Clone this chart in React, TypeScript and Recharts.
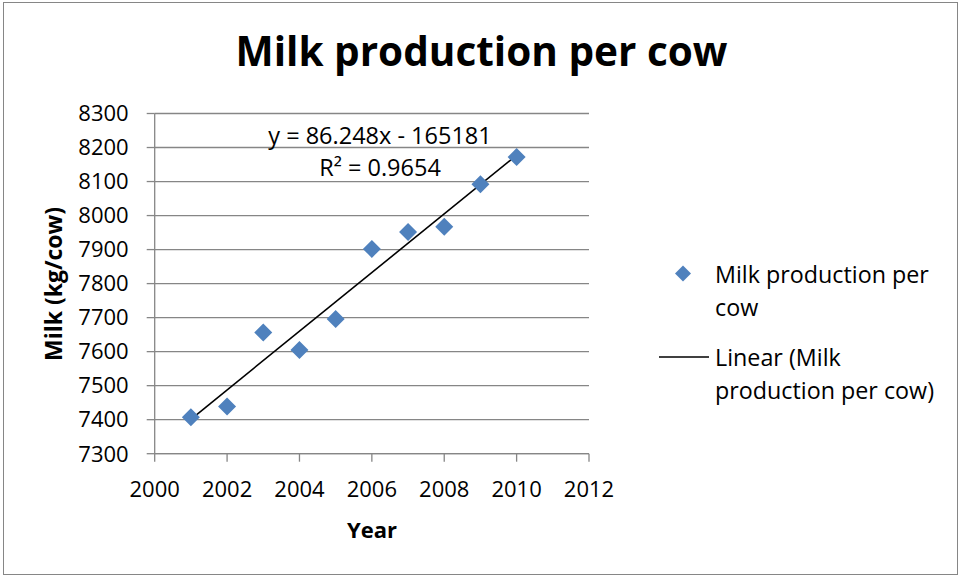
import { Legend, Scatter, ScatterChart, XAxis, YAxis, CartesianGrid } from 'recharts'

const years = [2001, 2002, 2003, 2004, 2005, 2006, 2007, 2008, 2009, 2010]
const milkPerCow = [7407, 7439, 7656, 7605, 7696, 7902, 7952, 7967, 8092, 8172]
const xTicks = [2000, 2002, 2004, 2006, 2008, 2010, 2012]
const yTicks = [7300, 7400, 7500, 7600, 7700, 7800, 7900, 8000, 8100, 8200, 8300]

// linear fit shown on the chart
const slope = 86.248
const intercept = -165181
const rSquared = 0.9654

const points = years.map((year, i) => ({ year, milk: milkPerCow[i] }))
const trend = [years[0], years[years.length - 1]].map((year) => ({
  year,
  milk: slope * year + intercept,
}))

const FONT = '"Open Sans", sans-serif'
const GRID = '#868686'
const BLUE = '#4F81BD'

const Diamond = (props: any) => {
  const { cx, cy } = props
  const r = 9
  return (
    <path
      d={`M${cx},${cy - r} L${cx + r},${cy} L${cx},${cy + r} L${cx - r},${cy} Z`}
      fill={BLUE}
    />
  )
}

const LegendBox = () => (
  <div style={{ fontFamily: FONT, fontSize: 23.3, color: '#000', lineHeight: '33px' }}>
    <div style={{ display: 'flex', alignItems: 'flex-start' }}>
      <svg width={58} height={33}>
        <path d="M26,7.5 L34,15.5 L26,23.5 L18,15.5 Z" fill={BLUE} />
      </svg>
      <div>
        Milk production per
        <br />
        cow
      </div>
    </div>
    <div style={{ display: 'flex', alignItems: 'flex-start', marginTop: 17 }}>
      <svg width={58} height={33}>
        <line x1={2} x2={52} y1={16} y2={16} stroke="#000" strokeWidth={1.5} />
      </svg>
      <div>
        Linear (Milk
        <br />
        production per cow)
      </div>
    </div>
  </div>
)

const App = () => {
  return (
    <div
      style={{
        position: 'absolute',
        left: 0,
        top: 0,
        width: 963,
        height: 578,
        background: '#fff',
        fontFamily: FONT,
      }}
    >
      <div
        style={{
          position: 'absolute',
          left: 3,
          top: 2,
          width: 955,
          height: 573,
          border: '1.5px solid #868686',
          boxSizing: 'border-box',
        }}
      />
      <ScatterChart
        width={963}
        height={578}
        margin={{ top: 113.5, right: 374, bottom: 64.3, left: 74.7 }}
      >
        <CartesianGrid vertical={false} stroke={GRID} strokeWidth={1.3} />
        <XAxis
          type="number"
          dataKey="year"
          domain={[2000, 2012]}
          ticks={xTicks}
          height={60}
          tickSize={8}
          tickMargin={20}
          stroke={GRID}
          strokeWidth={1.3}
          tick={{ fill: '#000', fontSize: 22, fontFamily: FONT }}
          allowDataOverflow
        />
        <YAxis
          type="number"
          dataKey="milk"
          domain={[7300, 8300]}
          ticks={yTicks}
          width={80}
          tickSize={8}
          tickMargin={18}
          stroke={GRID}
          strokeWidth={1.3}
          tick={{ fill: '#000', fontSize: 22, fontFamily: FONT }}
          allowDataOverflow
        />
        <Scatter
          name="Linear (Milk production per cow)"
          data={trend}
          line={{ stroke: '#000', strokeWidth: 1.6 }}
          shape={() => null}
          isAnimationActive={false}
        />
        <Scatter
          name="Milk production per cow"
          data={points}
          shape={Diamond}
          isAnimationActive={false}
        />
        {/* centered + middle keeps the legend from shrinking the plot; wrapperStyle places it */}
        <Legend
          layout="horizontal"
          align="center"
          verticalAlign="middle"
          content={() => <LegendBox />}
          wrapperStyle={{ left: 657, top: 258, width: 300 }}
        />
      </ScatterChart>

      <div
        style={{
          position: 'absolute',
          left: 0,
          width: 963,
          top: 21,
          textAlign: 'center',
          fontSize: 40.5,
          fontWeight: 700,
          lineHeight: '60px',
        }}
      >
        Milk production per cow
      </div>
      <div
        style={{
          position: 'absolute',
          left: 180,
          width: 400,
          top: 119,
          textAlign: 'center',
          fontSize: 23.5,
          lineHeight: '32px',
        }}
      >
        y = {slope}x - {Math.abs(intercept)}
        <br />
        R² = {rSquared}
      </div>
      <div
        style={{
          position: 'absolute',
          left: 272,
          width: 200,
          top: 512,
          textAlign: 'center',
          fontSize: 22,
          fontWeight: 700,
          lineHeight: '34px',
        }}
      >
        Year
      </div>
      <div
        style={{
          position: 'absolute',
          left: 53 - 100,
          top: 284 - 17,
          width: 200,
          textAlign: 'center',
          fontSize: 23,
          fontWeight: 700,
          lineHeight: '34px',
          transform: 'rotate(-90deg)',
        }}
      >
        Milk (kg/cow)
      </div>
    </div>
  )
}

export default App
